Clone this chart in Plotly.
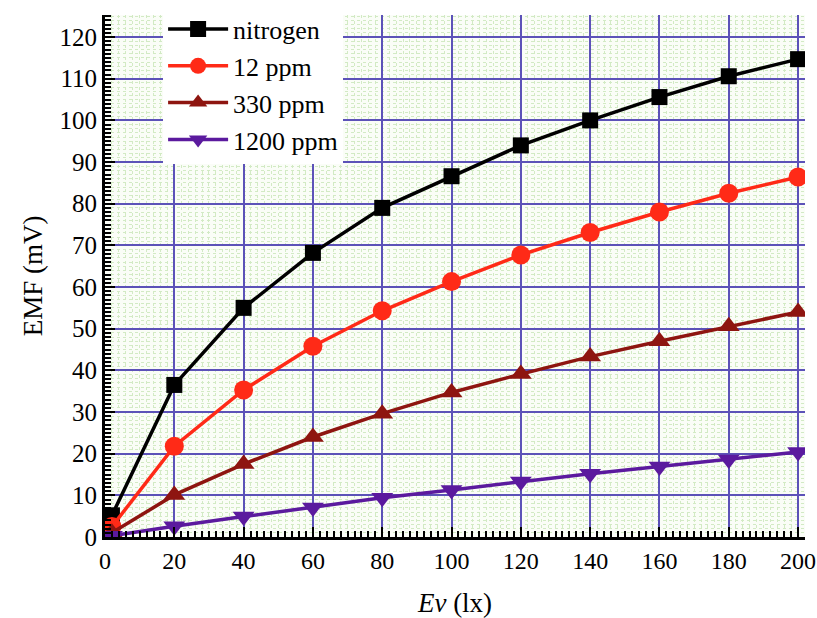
import plotly.graph_objects as go

x_vals = [2, 20, 40, 60, 80, 100, 120, 140, 160, 180, 200]
nitrogen = [5.2, 36.5, 55.0, 68.2, 79.0, 86.6, 94.0, 100.0, 105.6, 110.6, 114.7]
ppm12 = [2.5, 21.8, 35.3, 45.8, 54.3, 61.3, 67.7, 73.1, 78.0, 82.5, 86.4]
ppm330 = [1.0, 10.1, 17.5, 24.0, 29.6, 34.7, 39.1, 43.3, 47.0, 50.6, 54.0]
ppm1200 = [0.3, 2.6, 4.9, 7.1, 9.4, 11.3, 13.3, 15.2, 16.9, 18.6, 20.4]

series = [
    ("nitrogen", nitrogen, "#000000", "square", 16),
    ("12 ppm", ppm12, "#ff2a17", "circle", 19),
    ("330 ppm", ppm330, "#8e1510", "triangle-up", 19),
    ("1200 ppm", ppm1200, "#5b1a9e", "triangle-down", 19),
]

fig = go.Figure()
for name, ys, color, sym, size in series:
    fig.add_trace(go.Scatter(
        x=x_vals, y=ys, name=name, mode="lines+markers",
        line=dict(color=color, width=3.5),
        marker=dict(symbol=sym, size=size, color=color, line=dict(width=0)),
    ))

font_family = "Liberation Serif"
grid_major = "#5c52b8"
grid_minor = "#d2eac4"

fig.update_layout(
    width=817, height=618,
    margin=dict(l=105, r=12, t=15, b=81, autoexpand=False),
    paper_bgcolor="white",
    plot_bgcolor="#fafdf7",
    font=dict(family=font_family, size=22, color="black"),
    showlegend=True,
    legend=dict(
        x=0.083, y=1.018, xanchor="left", yanchor="top",
        bgcolor="white", borderwidth=0,
        font=dict(family=font_family, size=26, color="black"),
        itemwidth=60, tracegroupgap=0,
    ),
)

fig.update_xaxes(
    range=[0, 202], tickmode="linear", tick0=0, dtick=20,
    automargin=False,
    showline=True, linecolor="black", linewidth=3,
    ticks="inside", ticklen=10, tickwidth=2, tickcolor="black",
    showgrid=True, gridcolor=grid_major, gridwidth=1.5,
    zeroline=False,
    minor=dict(dtick=2, ticks="inside", ticklen=6, tickwidth=1.5, tickcolor="black",
               showgrid=True, gridcolor=grid_minor, griddash="dot", gridwidth=1),
    tickfont=dict(family=font_family, size=24),
    title=dict(text="<i>Ev</i> (lx)", font=dict(family=font_family, size=27), standoff=22),
)
fig.update_yaxes(
    range=[0, 125.3], tickmode="linear", tick0=0, dtick=10,
    automargin=False,
    showline=True, linecolor="black", linewidth=3,
    ticks="inside", ticklen=10, tickwidth=2, tickcolor="black",
    showgrid=True, gridcolor=grid_major, gridwidth=1.5,
    zeroline=False,
    minor=dict(dtick=1, ticks="inside", ticklen=6, tickwidth=1.5, tickcolor="black",
               showgrid=True, gridcolor=grid_minor, griddash="dot", gridwidth=1),
    tickfont=dict(family=font_family, size=25),
    title=dict(text="EMF (mV)", font=dict(family=font_family, size=27), standoff=10),
)

fig.write_html("out.html")
